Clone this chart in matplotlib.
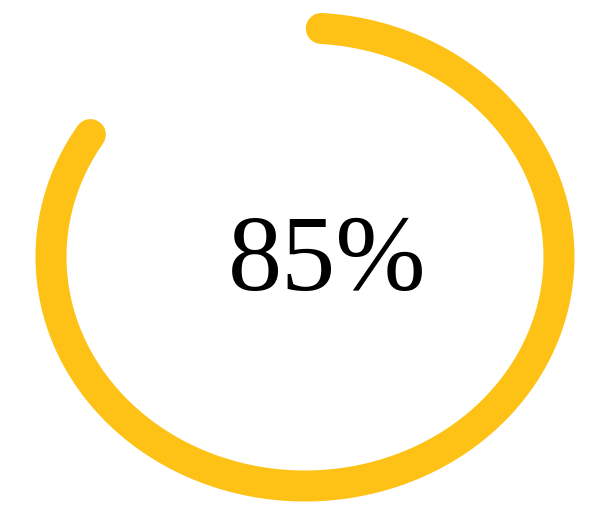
import numpy as np
import matplotlib
matplotlib.use("Agg")
import matplotlib.pyplot as plt

# progress ring value
value = 85
label = "85%"

W, H = 607, 519
CX, CY = 305, 257      # ring centre (px)
RX, RY = 254, 229      # ring radii (px)
LW_PX = 31             # ring thickness (px)
COLOR = "#FEC115"

fig = plt.figure(figsize=(W / 100, H / 100), dpi=100)
ax = fig.add_axes([0, 0, 1, 1])
ax.set_xlim(0, W)
ax.set_ylim(H, 0)
ax.axis("off")

# total visible length (incl. round caps) equals value % of the ring
cap_deg = np.degrees((LW_PX / 2) / ((RX + RY) / 2))
span = 360 * value / 100 - 2 * cap_deg
start = 90 - cap_deg
theta = np.radians(np.linspace(start, start - span, 400))
x = CX + RX * np.cos(theta)
y = CY - RY * np.sin(theta)
ax.plot(x, y, color=COLOR, lw=LW_PX * 72 / 100, solid_capstyle="round")

ax.text(327, 290, label, ha="center", va="baseline",
        fontsize=78, family=["Liberation Serif", "DejaVu Serif"], color="black")

fig.savefig("out.png", dpi=100)
